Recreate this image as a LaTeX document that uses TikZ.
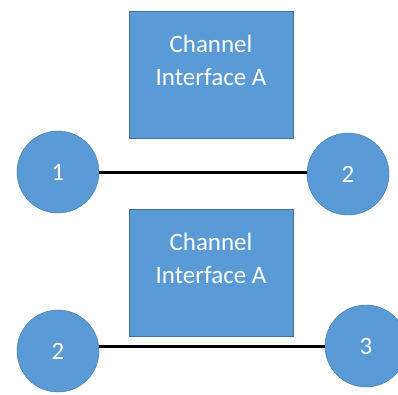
\documentclass[tikz,border=0pt]{standalone}
\usepackage{fontspec}
\setmainfont{Carlito}
\usetikzlibrary{positioning}
\definecolor{nodeblue}{HTML}{5B9BD5}
\definecolor{nodeedge}{HTML}{41719C}
\tikzset{
    chanbox/.style={
        draw=nodeedge,
        fill=nodeblue,
        minimum width=164pt,
        minimum height=127pt,
        inner sep=0pt
    },
    chantext/.style={
        text=white,
        align=center,
        font=\fontsize{25}{33}\selectfont
    },
    hop/.style={
        circle,
        draw=nodeedge,
        fill=nodeblue,
        minimum size=82pt,
        inner sep=0pt,
        text=white,
        font=\fontsize{25}{30}\selectfont
    },
    link/.style={line width=3pt, black}
}

\begin{document}
\begin{tikzpicture}[x=1pt, y=-1pt]
\useasboundingbox (0,0) rectangle (398,394);

% upper pair
\node[chanbox] (chanA) at (211,74.5) {};
\node[chantext] (chanAtext) at ([yshift=14pt]chanA.center) {Channel\\Interface A};
\node[hop] (hopone) at (58,172) {1};
\node[hop] (hoptwo) at (348,174) {2};
\draw[link] (hopone.east) -- (hopone.east -| hoptwo.west);

% lower pair
\node[chanbox] (chanB) at (211,272.5) {};
\node[chantext] (chanBtext) at ([yshift=14pt]chanB.center) {Channel\\Interface A};
\node[hop] (hoptwob) at (58,351) {2};
\node[hop] (hopthree) at (366,346) {3};
\draw[link] (hopthree.west -| hoptwob.east) -- (hopthree.west);
\end{tikzpicture}
\end{document}
